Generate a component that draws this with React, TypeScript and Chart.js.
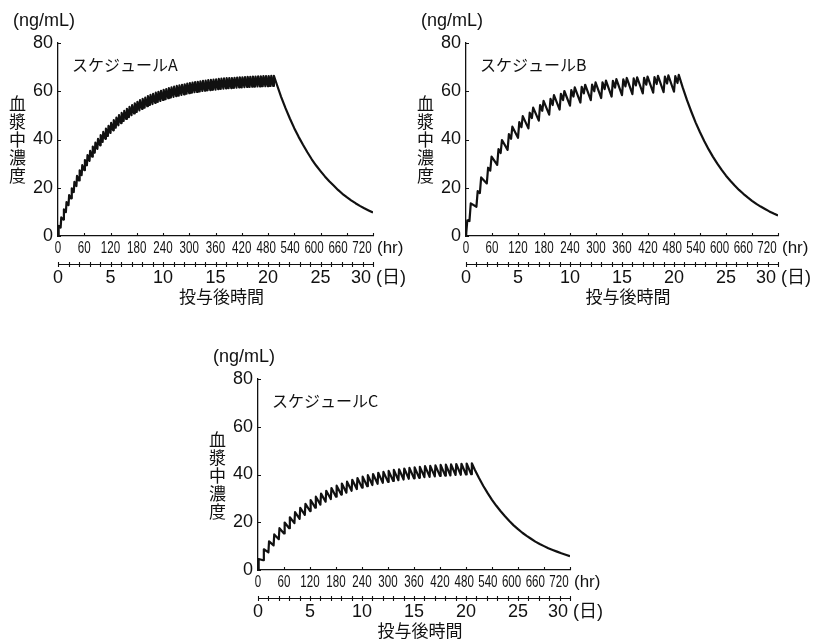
import { useEffect, useRef } from "react";
import { Chart, registerables } from "chart.js";

Chart.register(...registerables);

// ---- axis ticks ----
const hourTicks = [0, 60, 120, 180, 240, 300, 360, 420, 480, 540, 600, 660, 720];
const dayLabels = [0, 5, 10, 15, 20, 25, 30];
const dayMarks = [
  0, 1, 2, 3, 4, 5, 6, 7, 8, 9, 10, 11, 12, 13, 14, 15, 16, 17, 18, 19, 20, 21, 22, 23, 24, 25, 26, 27, 28, 29, 30,
];
const concTicks = [0, 20, 40, 60, 80];
const HOURS_PER_DAY = 24;

// ---- schedule A: dose every 6 h (ng/mL) ----
const doseHoursA = [
  0, 6, 12, 18, 24, 30, 36, 42, 48, 54,
  60, 66, 72, 78, 84, 90, 96, 102, 108, 114,
  120, 126, 132, 138, 144, 150, 156, 162, 168, 174,
  180, 186, 192, 198, 204, 210, 216, 222, 228, 234,
  240, 246, 252, 258, 264, 270, 276, 282, 288, 294,
  300, 306, 312, 318, 324, 330, 336, 342, 348, 354,
  360, 366, 372, 378, 384, 390, 396, 402, 408, 414,
  420, 426, 432, 438, 444, 450, 456, 462, 468, 474,
  480, 486, 492,
];
const troughA = [
  0, 3.5, 6.8, 9.9, 12.8, 15.6, 18.2, 20.7, 23.0, 25.2,
  27.3, 29.3, 31.1, 32.9, 34.5, 36.1, 37.6, 39.0, 40.3, 41.5,
  42.7, 43.8, 44.9, 45.9, 46.8, 47.7, 48.5, 49.3, 50.1, 50.8,
  51.4, 52.1, 52.7, 53.2, 53.8, 54.3, 54.7, 55.2, 55.6, 56.0,
  56.4, 56.7, 57.1, 57.4, 57.7, 58.0, 58.2, 58.5, 58.7, 59.0,
  59.2, 59.4, 59.6, 59.7, 59.9, 60.1, 60.2, 60.4, 60.5, 60.6,
  60.7, 60.9, 61.0, 61.1, 61.2, 61.3, 61.3, 61.4, 61.5, 61.6,
  61.6, 61.7, 61.8, 61.8, 61.9, 61.9, 62.0, 62.0, 62.1, 62.1,
  62.1, 62.2, 62.2,
];
const peakA = [
  4.2, 7.7, 11.0, 14.1, 17.0, 19.8, 22.4, 24.9, 27.2, 29.4,
  31.5, 33.5, 35.3, 37.1, 38.7, 40.3, 41.8, 43.2, 44.5, 45.7,
  46.9, 48.0, 49.1, 50.1, 51.0, 51.9, 52.7, 53.5, 54.3, 55.0,
  55.6, 56.3, 56.9, 57.4, 58.0, 58.5, 58.9, 59.4, 59.8, 60.2,
  60.6, 60.9, 61.3, 61.6, 61.9, 62.2, 62.4, 62.7, 62.9, 63.2,
  63.4, 63.6, 63.8, 63.9, 64.1, 64.3, 64.4, 64.6, 64.7, 64.8,
  64.9, 65.1, 65.2, 65.3, 65.4, 65.5, 65.5, 65.6, 65.7, 65.8,
  65.8, 65.9, 66.0, 66.0, 66.1, 66.1, 66.2, 66.2, 66.3, 66.3,
  66.3, 66.4, 66.4,
];

// ---- schedule B: two doses per day ----
const dayStartB = [0, 24, 48, 72, 96, 120, 144, 168, 192, 216, 240, 264, 288, 312, 336, 360, 384, 408, 432, 456, 480];
const troughB = [0, 12.1, 21.8, 29.5, 35.7, 40.7, 44.6, 47.8, 50.3, 52.4, 54.0, 55.3, 56.3, 57.2, 57.8, 58.4, 58.8, 59.1, 59.4, 59.6, 59.8];
const firstPeakB = [6.5, 18.6, 28.3, 36.0, 42.2, 47.2, 51.1, 54.3, 56.8, 58.9, 60.5, 61.8, 62.8, 63.7, 64.3, 64.9, 65.3, 65.6, 65.9, 66.1, 66.3];
const dipB = [6.2, 17.8, 27.1, 34.4, 40.3, 45.1, 48.9, 51.9, 54.3, 56.3, 57.8, 59.1, 60.0, 60.9, 61.5, 62.0, 62.4, 62.7, 63.0, 63.2, 63.4];
const secondPeakB = [13.5, 24.3, 32.9, 39.8, 45.3, 49.7, 53.2, 56.0, 58.4, 60.1, 61.6, 62.7, 63.7, 64.4, 65.0, 65.5, 65.8, 66.1, 66.4, 66.6, 66.8];

// ---- schedule C: dose every 12 h ----
const doseHoursC = [
  0, 12, 24, 36, 48, 60, 72, 84, 96, 108,
  120, 132, 144, 156, 168, 180, 192, 204, 216, 228,
  240, 252, 264, 276, 288, 300, 312, 324, 336, 348,
  360, 372, 384, 396, 408, 420, 432, 444, 456, 468,
  480, 492,
];
const troughC = [
  0, 4.1, 7.4, 10.3, 12.9, 15.3, 17.5, 19.6, 21.4, 23.1,
  24.7, 26.1, 27.4, 28.6, 29.7, 30.7, 31.6, 32.4, 33.2, 33.9,
  34.5, 35.1, 35.6, 36.1, 36.5, 36.9, 37.3, 37.6, 37.9, 38.2,
  38.4, 38.6, 38.9, 39.0, 39.2, 39.4, 39.5, 39.6, 39.8, 39.9,
  40.0, 40.1,
];
const peakC = [
  4.6, 8.7, 12.0, 14.9, 17.5, 19.9, 22.1, 24.2, 26.0, 27.7,
  29.3, 30.7, 32.0, 33.2, 34.3, 35.3, 36.2, 37.0, 37.8, 38.5,
  39.1, 39.7, 40.2, 40.7, 41.1, 41.5, 41.9, 42.2, 42.5, 42.8,
  43.0, 43.2, 43.5, 43.6, 43.8, 44.0, 44.1, 44.2, 44.4, 44.5,
  44.6, 44.7,
];

// ---- washout after the last dose ----
const washoutHours = [500, 510, 520, 530, 540, 550, 560, 570, 580, 590, 600, 610, 620, 630, 640, 650, 660, 670, 680, 690, 700, 710, 720];
const washoutA = [62.9, 57.7, 53.0, 48.7, 44.7, 41.1, 37.8, 34.7, 31.8, 29.2, 26.9, 24.7, 22.7, 20.9, 19.1, 17.5, 16.1, 14.8, 13.6, 12.5, 11.5, 10.6, 9.7];
const washoutB = [61.6, 56.3, 51.5, 47.0, 43.0, 39.3, 35.9, 32.8, 30.0, 27.4, 25.0, 22.9, 20.9, 19.1, 17.5, 16.0, 14.6, 13.3, 12.2, 11.2, 10.2, 9.3, 8.5];
const washoutC = [42.1, 38.5, 35.2, 32.2, 29.4, 26.9, 24.6, 22.5, 20.5, 18.7, 17.1, 15.6, 14.3, 13.1, 11.9, 10.9, 10.0, 9.1, 8.4, 7.7, 7.0, 6.4, 5.8];

// time from a dose to its peak (h)
const PEAK_DELAY = 1.5;
// offsets of the twice-daily profile in schedule B (h)
const B_FIRST_PEAK = 3;
const B_DIP = 8;
const B_SECOND_PEAK = 11;

const INK = "#111";
const LATIN = "'Liberation Sans', Arial, Helvetica";
const CJK = "'Noto Sans CJK JP', 'Noto Sans CJK SC', sans-serif";

type Pt = { x: number; y: number };

function regularDosing(hours: number[], troughs: number[], peaks: number[]): Pt[] {
  const pts: Pt[] = [];
  hours.forEach((h, i) => {
    pts.push({ x: h, y: troughs[i] });
    pts.push({ x: h + PEAK_DELAY, y: peaks[i] });
  });
  return pts;
}

function twiceDaily(starts: number[], troughs: number[], p1: number[], dips: number[], p2: number[]): Pt[] {
  const pts: Pt[] = [];
  starts.forEach((h, i) => {
    pts.push({ x: h, y: troughs[i] });
    pts.push({ x: h + B_FIRST_PEAK, y: p1[i] });
    pts.push({ x: h + B_DIP, y: dips[i] });
    pts.push({ x: h + B_SECOND_PEAK, y: p2[i] });
  });
  return pts;
}

function washout(values: number[]): Pt[] {
  return washoutHours.map((h, i) => ({ x: h, y: values[i] }));
}

const seriesA = [...regularDosing(doseHoursA, troughA, peakA), ...washout(washoutA)];
const seriesB = [...twiceDaily(dayStartB, troughB, firstPeakB, dipB, secondPeakB), ...washout(washoutB)];
const seriesC = [...regularDosing(doseHoursC, troughC, peakC), ...washout(washoutC)];

const PAD_LEFT = 58;
const PAD_TOP = 43;
const PAD_RIGHT = 48;
const PAD_BOTTOM = 72;

function makeDecorations(label: string) {
  return {
    id: "panelDecorations",
    afterDraw(chart: any) {
      const { ctx, chartArea: a, scales } = chart;
      const xs = scales.x;
      const ys = scales.y;
      const span = a.right - a.left;
      ctx.save();
      ctx.strokeStyle = INK;
      ctx.fillStyle = INK;
      ctx.lineWidth = 1.1;

      // inward tick marks on both axes
      ctx.beginPath();
      for (const v of concTicks) {
        const y = Math.round(ys.getPixelForValue(v)) + 0.5;
        ctx.moveTo(a.left, y);
        ctx.lineTo(a.left + 3, y);
      }
      for (const h of hourTicks) {
        const x = Math.round(xs.getPixelForValue(h)) + 0.5;
        ctx.moveTo(x, a.bottom);
        ctx.lineTo(x, a.bottom - 3);
      }
      ctx.stroke();

      // hour labels in a narrow face; the right-hand ones close up to leave room for the unit
      ctx.textBaseline = "middle";
      ctx.textAlign = "center";
      ctx.font = `17px ${LATIN}, sans-serif`;
      for (const h of hourTicks) {
        const px = xs.getPixelForValue(h);
        const frac = (px - a.left) / span;
        const x = px - (Math.max(0, frac - 0.6) / 0.4) * 11;
        ctx.save();
        ctx.translate(x, a.bottom + 12);
        ctx.scale(0.68, 1);
        ctx.fillText(String(h), 0, 0);
        ctx.restore();
      }
      ctx.font = `17px ${LATIN}, sans-serif`;
      ctx.textAlign = "left";
      ctx.fillText("(hr)", a.right + 4, a.bottom + 12);

      // day axis
      const dy = a.bottom + 28.5;
      ctx.beginPath();
      ctx.moveTo(xs.getPixelForValue(0), dy);
      ctx.lineTo(xs.getPixelForValue(720), dy);
      for (const d of dayMarks) {
        const x = Math.round(xs.getPixelForValue(d * HOURS_PER_DAY)) + 0.5;
        ctx.moveTo(x, dy - 2.5);
        ctx.lineTo(x, dy + 2.5);
      }
      ctx.stroke();

      ctx.font = `18px ${LATIN}, sans-serif`;
      dayLabels.forEach((d, i) => {
        const last = i === dayLabels.length - 1;
        ctx.textAlign = last ? "right" : "center";
        const x = last ? a.right - 2 : xs.getPixelForValue(d * HOURS_PER_DAY);
        ctx.fillText(String(d), x, a.bottom + 42);
      });
      ctx.textAlign = "left";
      ctx.font = `18px ${LATIN}, ${CJK}`;
      ctx.fillText("(日)", a.right + 3, a.bottom + 42);

      // x-axis title
      ctx.textAlign = "center";
      ctx.font = `17px ${CJK}`;
      ctx.fillText("投与後時間", (a.left + a.right) / 2 + 6, a.bottom + 61);

      // unit above the y axis
      ctx.font = `18px ${LATIN}, sans-serif`;
      ctx.fillText("(ng/mL)", a.left - 14, a.top - 22);

      // vertical y-axis title
      ctx.font = `17px ${CJK}`;
      Array.from("血漿中濃度").forEach((ch, i) => {
        ctx.fillText(ch, a.left - 40.5, a.top + 61 + i * 18);
      });

      // schedule name inside the plot
      ctx.textAlign = "left";
      ctx.font = `16px ${CJK}`;
      ctx.fillText(label, a.left + 14, a.top + 22);

      ctx.restore();
    },
  };
}

interface PanelProps {
  plotLeft: number;
  plotTop: number;
  plotRight: number;
  plotBottom: number;
  label: string;
  points: Pt[];
}

function Panel({ plotLeft, plotTop, plotRight, plotBottom, label, points }: PanelProps) {
  const ref = useRef<HTMLCanvasElement | null>(null);
  const width = plotRight - plotLeft + PAD_LEFT + PAD_RIGHT;
  const height = plotBottom - plotTop + PAD_TOP + PAD_BOTTOM;

  useEffect(() => {
    if (!ref.current) return;
    const chart = new Chart(ref.current, {
      type: "line",
      data: {
        datasets: [
          {
            data: points,
            borderColor: INK,
            borderWidth: 2.2,
            borderJoinStyle: "round",
            pointRadius: 0,
            tension: 0,
            parsing: false,
          } as any,
        ],
      },
      options: {
        responsive: false,
        animation: false,
        devicePixelRatio: 1,
        events: [],
        layout: { padding: { left: 0, top: PAD_TOP, right: PAD_RIGHT, bottom: PAD_BOTTOM } },
        plugins: { legend: { display: false }, tooltip: { enabled: false } },
        scales: {
          x: {
            type: "linear",
            min: 0,
            max: 720,
            grid: { display: false, drawTicks: false },
            border: { display: true, color: INK, width: 1.3 },
            ticks: { display: false },
            afterFit: (s: any) => {
              s.height = 0;
            },
          },
          y: {
            type: "linear",
            min: 0,
            max: 80,
            grid: { display: false, drawTicks: false },
            border: { display: true, color: INK, width: 1.3 },
            ticks: {
              color: INK,
              padding: 5,
              font: { family: LATIN + ", sans-serif", size: 18 },
            },
            afterBuildTicks: (s: any) => {
              s.ticks = concTicks.map((v) => ({ value: v }));
            },
            afterFit: (s: any) => {
              s.width = PAD_LEFT;
            },
          },
        },
      },
      plugins: [makeDecorations(label)],
    } as any);
    return () => chart.destroy();
  }, [points, label]);

  return (
    <canvas
      ref={ref}
      width={width}
      height={height}
      style={{ position: "absolute", left: plotLeft - PAD_LEFT, top: plotTop - PAD_TOP, width, height }}
    />
  );
}

export default function App() {
  return (
    <div
      style={{
        position: "fixed",
        left: 0,
        top: 0,
        width: 823,
        height: 639,
        overflow: "hidden",
        background: "#fff",
      }}
    >
      <Panel plotLeft={58} plotTop={43} plotRight={373} plotBottom={236} label="スケジュールA" points={seriesA} />
      <Panel plotLeft={466} plotTop={43} plotRight={778} plotBottom={236} label="スケジュールB" points={seriesB} />
      <Panel plotLeft={258} plotTop={379} plotRight={570} plotBottom={570} label="スケジュールC" points={seriesC} />
    </div>
  );
}
